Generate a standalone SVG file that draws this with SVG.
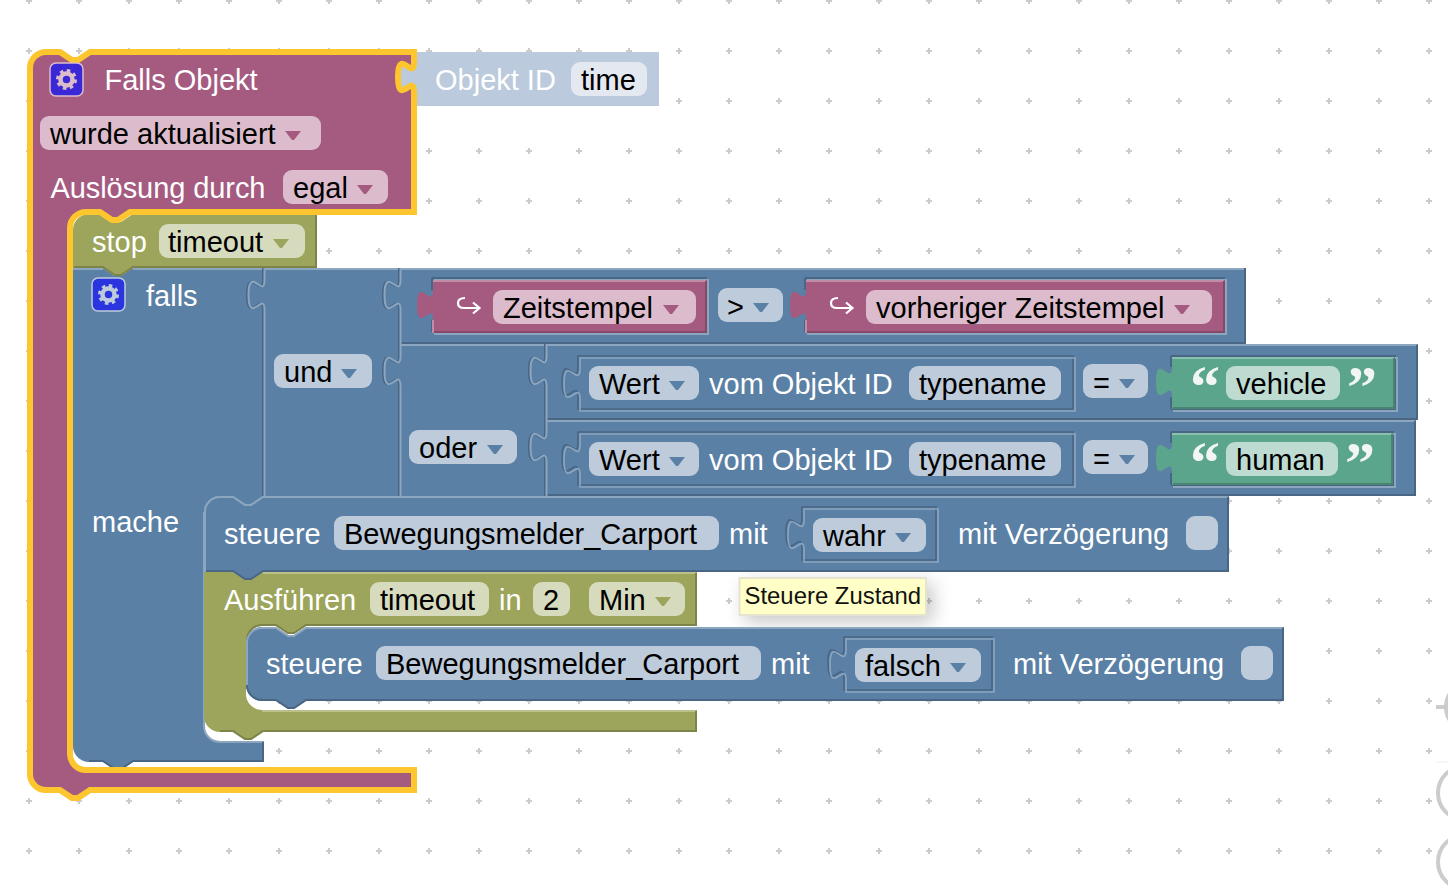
<svg xmlns="http://www.w3.org/2000/svg" xmlns:xlink="http://www.w3.org/1999/xlink" width="1448" height="894" viewBox="0 0 1448 894">
<style>
text{font-family:"Liberation Sans",Arial,sans-serif;font-size:29px}
.w{fill:#fff}.k{fill:#000}
.blue{fill:#5b80a5}.pur{fill:#a55b80}.olv{fill:#9ca55b}.grn{fill:#5ba58c}
.ld{fill:none;stroke:#496684;stroke-width:2}.ll{fill:none;stroke:#8ca6c0;stroke-width:2}
.lds{fill:none;stroke:#496684;stroke-width:1.6}.lls{fill:none;stroke:#8ca6c0;stroke-width:1.6}
.pd{fill:none;stroke:#844966;stroke-width:2}.pl{fill:none;stroke:#c08ca6;stroke-width:2}
.od{fill:none;stroke:#7d844a;stroke-width:2}.ol{fill:none;stroke:#bcc18c;stroke-width:2}
.gd{fill:none;stroke:#498470;stroke-width:2}.gl{fill:none;stroke:#8cc0ae;stroke-width:2}
.fb{fill:#bdcbdb}.fp{fill:#dcbccc}.fo{fill:#d7dbbd}.fg{fill:#bddbd1}
.tb{fill:#5b80a5}.tp{fill:#a55b80}.to{fill:#9ca55b}
.q{font-family:"Liberation Serif",serif;font-weight:bold;font-size:60px;fill:#f1f6f4}
.arr{fill:none;stroke:#fff;stroke-width:2.2;stroke-linejoin:miter}
.ring{fill:none;stroke:#ccc;stroke-width:4}
</style>
<defs>
<pattern id="grid" patternUnits="userSpaceOnUse" x="4" y="-24" width="50" height="50">
<path d="M22,25 H28 M25,22 V28" stroke="#ccc" stroke-width="2" fill="none"/>
</pattern>
<path id="tri" d="M0,0 H16 L9,9 H7 Z"/>
<g id="gear" fill="none">
<circle r="6" stroke-width="4.5"/>
<circle r="8.8" stroke-width="3.4" stroke-dasharray="3.45 3.46"/>
</g>
<filter id="sh" x="-20%" y="-50%" width="150%" height="220%">
<feDropShadow dx="6" dy="6" stdDeviation="9" flood-color="#000" flood-opacity=".22"/>
</filter>
</defs>
<rect width="1448" height="894" fill="#fff"/>
<rect width="1448" height="894" fill="url(#grid)"/>

<g id="workspace-controls">
<path class="ring" d="M1436,707 H1445"/>
<circle class="ring" cx="1471" cy="707" r="25"/>
<path d="M1436,762 H1448" stroke="#eee" stroke-width="1"/>
<circle class="ring" cx="1465" cy="793" r="27"/>
<circle class="ring" cx="1465" cy="862" r="27"/>
</g>

<g id="tooltip">
<rect x="739.500" y="578" width="186.500" height="37" fill="#ffffc7" stroke="#e4e4d0" stroke-width="2" filter="url(#sh)"/>
<text x="744.500" y="604" style="font-size:23.900px" fill="#111">Steuere Zustand</text>
</g>

<g id="objekt-id">
<path d="M414,52 V62 c0,20 -16,-16 -16,15 s16,-5 16,15 V106 H659 V52 Z" fill="#bbcadc"/>
<text class="w" x="435" y="90">Objekt ID</text>
<rect x="571" y="62" width="76" height="34" rx="9" fill="#e4e9f1"/>
<text class="k" x="581" y="90">time</text>
</g>

<g id="falls">
<path class="blue" d="M73,268 H103 l12,8 h6 l12,-8 H264 V496 L263,496 l-12,8 h-6 l-12,-8 H220 a16,16 0 0 0 -16,16 V726 a16,16 0 0 0 16,16 H264 V762 H133 l-12,8 h-6 l-12,-8 H89 a16,16 0 0 1 -16,-16 Z"/>
<path class="ll" d="M204,512 V726 a16,16 0 0 0 16,16 H264"/>
<path class="ld" d="M89,761 H103 l12,8 h6 l12,-8 H263 V742"/>
<path class="ll" d="M73,269 H103 M133,269 H264"/>
<rect x="92" y="278" width="33" height="33" rx="6" fill="#2a35e0" stroke="#bdcbdb" stroke-width="1.5"/>
<use href="#gear" transform="translate(108.500,294.500)" stroke="#bdcbdb"/>
<text class="w" x="146" y="306">falls</text>
<text class="w" x="92" y="532">mache</text>
</g>

<g id="und">
<rect class="blue" x="264" y="268" width="136" height="228"/>
<path class="ll" d="M264,269 H400"/>
<rect class="fb" x="274" y="354" width="98" height="34" rx="9"/>
<text class="k" x="284" y="382">und</text>
<use href="#tri" class="tb" x="341" y="369"/>
</g>

<g id="vergleich-zeitstempel">
<rect class="blue" x="400" y="268" width="846" height="76"/>
<path class="ll" d="M400,269 H1245"/>
<path class="ld" d="M1245,268 V343 H400"/>
<g id="wert-zeitstempel">
<path class="ld" d="M432,278 V290 M432,320 V332 M432,278 H706 V332 H432"/>
<path class="ll" d="M434,280 H708 V334 H434"/>
<path class="pur" d="M433,280 V290 c0,20 -16,-16 -16,15 s16,-5 16,15 V333 H707 V280 Z"/>
<path class="pl" d="M433,281 H706 M433,333 V320"/>
<path class="pd" d="M706,281 V332 H434"/>
<path class="arr" d="M465,298 C460,298 458,300 458,303 C458,306 460,308 464,308 H479 M473,302.500 L479.500,308 L473,313.500"/>
<rect class="fp" x="493" y="290" width="203" height="34" rx="9"/>
<text class="k" x="503" y="318">Zeitstempel</text>
<use href="#tri" class="tp" x="663" y="305"/>
</g>
<rect class="fb" x="718" y="288" width="65" height="34" rx="9"/>
<text class="k" x="727" y="317">&gt;</text>
<use href="#tri" class="tb" x="753" y="303"/>
<g id="wert-vorheriger">
<path class="ld" d="M805,278 V290 M805,320 V332 M805,278 H1224 V332 H805"/>
<path class="ll" d="M807,280 H1226 V334 H807"/>
<path class="pur" d="M806,280 V290 c0,20 -16,-16 -16,15 s16,-5 16,15 V333 H1225 V280 Z"/>
<path class="pl" d="M806,281 H1224 M806,333 V320"/>
<path class="pd" d="M1224,281 V332 H807"/>
<path class="arr" d="M838,298 C833,298 831,300 831,303 C831,306 833,308 837,308 H852 M846,302.500 L852.500,308 L846,313.500"/>
<rect class="fp" x="866" y="290" width="346" height="34" rx="9"/>
<text class="k" x="876" y="318">vorheriger Zeitstempel</text>
<use href="#tri" class="tp" x="1174" y="305"/>
</g>
</g>

<g id="oder">
<rect class="blue" x="400" y="344" width="146" height="152"/>
<path class="ll" d="M400,345 H546"/>
<rect class="fb" x="409" y="430" width="108" height="34" rx="9"/>
<text class="k" x="419" y="458">oder</text>
<use href="#tri" class="tb" x="487" y="445"/>
</g>

<g id="vergleich-vehicle">
<rect class="blue" x="546" y="344" width="872" height="76"/>
<path class="ll" d="M546,345 H1417"/>
<path class="ld" d="M1417,345 V419 H546"/>
<path class="lds" d="M578,356 V367 c0,20 -16,-16 -16,15 s16,-5 16,15 V409 H1073 V356 Z"/>
<path class="lls" transform="translate(2,2)" d="M578,356 V367 c0,20 -16,-16 -16,15 s16,-5 16,15 V409 H1073 V356 Z"/>
<rect class="fb" x="589" y="366" width="110" height="34" rx="9"/>
<text class="k" x="599" y="394">Wert</text>
<use href="#tri" class="tb" x="669" y="381"/>
<text class="w" x="709" y="394">vom Objekt ID</text>
<rect class="fb" x="909" y="366" width="152" height="34" rx="9"/>
<text class="k" x="919" y="394">typename</text>
<rect class="fb" x="1083" y="364" width="65" height="34" rx="9"/>
<text class="k" x="1093" y="393">=</text>
<use href="#tri" class="tb" x="1119" y="379"/>
<g id="text-vehicle">
<path class="ld" d="M1171,356 V367 M1171,397 V409 M1171,356 H1395 V409 H1171"/>
<path class="ll" d="M1173,358 H1397 V411 H1173"/>
<path class="grn" d="M1172,357 V367 c0,20 -16,-16 -16,15 s16,-5 16,15 V409 H1395 V357 Z"/>
<path class="gl" d="M1172,358 H1394"/>
<path class="gd" d="M1394,358 V408 H1173"/>
<text class="q" x="1190" y="407">“</text>
<rect class="fg" x="1226" y="366" width="114" height="34" rx="9"/>
<text class="k" x="1236" y="394">vehicle</text>
<text class="q" x="1347" y="407">”</text>
</g>
</g>

<g id="vergleich-human">
<rect class="blue" x="546" y="420" width="870" height="76"/>
<path class="ll" d="M546,421 H1415"/>
<path class="ld" d="M1415,421 V495 H546"/>
<path class="lds" d="M578,432 V443 c0,20 -16,-16 -16,15 s16,-5 16,15 V485 H1073 V432 Z"/>
<path class="lls" transform="translate(2,2)" d="M578,432 V443 c0,20 -16,-16 -16,15 s16,-5 16,15 V485 H1073 V432 Z"/>
<rect class="fb" x="589" y="442" width="110" height="34" rx="9"/>
<text class="k" x="599" y="470">Wert</text>
<use href="#tri" class="tb" x="669" y="457"/>
<text class="w" x="709" y="470">vom Objekt ID</text>
<rect class="fb" x="909" y="442" width="152" height="34" rx="9"/>
<text class="k" x="919" y="470">typename</text>
<rect class="fb" x="1083" y="440" width="65" height="34" rx="9"/>
<text class="k" x="1093" y="469">=</text>
<use href="#tri" class="tb" x="1119" y="455"/>
<g id="text-human">
<path class="ld" d="M1171,432 V443 M1171,473 V485 M1171,432 H1393 V485 H1171"/>
<path class="ll" d="M1173,434 H1395 V487 H1173"/>
<path class="grn" d="M1172,433 V443 c0,20 -16,-16 -16,15 s16,-5 16,15 V485 H1393 V433 Z"/>
<path class="gl" d="M1172,434 H1392"/>
<path class="gd" d="M1392,434 V484 H1173"/>
<text class="q" x="1190" y="483">“</text>
<rect class="fg" x="1226" y="442" width="112" height="34" rx="9"/>
<text class="k" x="1236" y="470">human</text>
<text class="q" x="1345" y="483">”</text>
</g>
</g>

<g id="connectors">
<path class="ld" d="M263,268 V280 c0,20 -16,-16 -16,15 s16,-5 16,15 V496"/>
<path class="ll" d="M264.500,268 V280 c0,20 -16,-16 -16,15 s16,-5 16,15 V496"/>
<path class="ld" d="M399,268 V280 c0,20 -16,-16 -16,15 s16,-5 16,15 V356 c0,20 -16,-16 -16,15 s16,-5 16,15 V496"/>
<path class="ll" d="M400.500,268 V280 c0,20 -16,-16 -16,15 s16,-5 16,15 V356 c0,20 -16,-16 -16,15 s16,-5 16,15 V496"/>
<path class="ld" d="M545,344 V356 c0,20 -16,-16 -16,15 s16,-5 16,15 V432 c0,20 -16,-16 -16,15 s16,-5 16,15 V496"/>
<path class="ll" d="M546.500,344 V356 c0,20 -16,-16 -16,15 s16,-5 16,15 V432 c0,20 -16,-16 -16,15 s16,-5 16,15 V496"/>
</g>

<g id="ausfuehren">
<path class="olv" d="M204,572 H233 l12,8 h6 l12,-8 H697 V626 H306 l-12,8 h-6 l-12,-8 H262 a16,16 0 0 0 -16,16 V694 a16,16 0 0 0 16,16 H697 V732 H263 l-12,8 h-6 l-12,-8 H220 a16,16 0 0 1 -16,-16 Z"/>
<path class="ol" d="M263,573 H696 M262,711 H696"/>
<path class="od" d="M696,573 V625 H306 l-12,8 h-6 l-12,-8 H262 a15,15 0 0 0 -15,16 M696,711 V731 H263 l-12,8 h-6 l-12,-8 H220"/>
<text class="w" x="224" y="610">Ausführen</text>
<rect class="fo" x="370" y="582" width="119" height="34" rx="9"/>
<text class="k" x="380" y="610">timeout</text>
<text class="w" x="499" y="610">in</text>
<rect class="fo" x="533" y="582" width="37" height="34" rx="9"/>
<text class="k" x="543" y="610">2</text>
<rect class="fo" x="589" y="582" width="96" height="34" rx="9"/>
<text class="k" x="599" y="610">Min</text>
<use href="#tri" class="to" x="655" y="597"/>
</g>

<g id="steuere-wahr">
<path class="blue" d="M204,512 a16,16 0 0 1 16,-16 H233 l12,8 h6 l12,-8 H1229 V572 H263 l-12,8 h-6 l-12,-8 H204 Z"/>
<path class="ll" d="M205,572 V512 a15,15 0 0 1 15,-15 H233 l12,8 h6 l12,-8 H1228"/>
<path class="ld" d="M1228,497 V571 H263 l-12,8 h-6 l-12,-8 H206"/>
<text class="w" x="224" y="544">steuere</text>
<rect class="fb" x="334" y="516" width="385" height="34" rx="9"/>
<text class="k" x="344" y="544">Bewegungsmelder_Carport</text>
<text class="w" x="729" y="544">mit</text>
<path class="lds" d="M802,507 V518 c0,20 -16,-16 -16,15 s16,-5 16,15 V560 H936 V507 Z"/>
<path class="lls" transform="translate(2,2)" d="M802,507 V518 c0,20 -16,-16 -16,15 s16,-5 16,15 V560 H936 V507 Z"/>
<rect class="fb" x="813" y="518" width="113" height="34" rx="9"/>
<text class="k" x="823" y="546">wahr</text>
<use href="#tri" class="tb" x="895" y="533"/>
<text class="w" x="958" y="544">mit Verzögerung</text>
<rect class="fb" x="1186" y="516" width="32" height="34" rx="9"/>
</g>

<g id="steuere-falsch">
<path class="blue" d="M246,643 a16,16 0 0 1 16,-16 H276 l12,8 h6 l12,-8 H1284 V701 H306 l-12,8 h-6 l-12,-8 H262 a16,16 0 0 1 -16,-16 Z"/>
<path class="ll" d="M247,685 V643 a15,15 0 0 1 15,-15 H276 l12,8 h6 l12,-8 H1283"/>
<path class="ld" d="M1283,628 V700 H306 l-12,8 h-6 l-12,-8 H262 a15,15 0 0 1 -15,-15"/>
<text class="w" x="266" y="674">steuere</text>
<rect class="fb" x="376" y="646" width="385" height="34" rx="9"/>
<text class="k" x="386" y="674">Bewegungsmelder_Carport</text>
<text class="w" x="771" y="674">mit</text>
<path class="lds" d="M844,637 V648 c0,20 -16,-16 -16,15 s16,-5 16,15 V690 H992 V637 Z"/>
<path class="lls" transform="translate(2,2)" d="M844,637 V648 c0,20 -16,-16 -16,15 s16,-5 16,15 V690 H992 V637 Z"/>
<rect class="fb" x="855" y="648" width="126" height="34" rx="9"/>
<text class="k" x="865" y="676">falsch</text>
<use href="#tri" class="tb" x="950" y="663"/>
<text class="w" x="1013" y="674">mit Verzögerung</text>
<rect class="fb" x="1241" y="646" width="32" height="34" rx="9"/>
</g>

<g id="stop">
<path class="olv" d="M73,230 a16,16 0 0 1 16,-16 H103 l12,8 h6 l12,-8 H317 V268 H133 l-12,8 h-6 l-12,-8 H73 Z"/>
<path class="od" d="M316,215 V267 H133 l-12,8 h-6 l-12,-8 H74"/>
<text class="w" x="92" y="252">stop</text>
<rect class="fo" x="159" y="224" width="146" height="34" rx="9"/>
<text class="k" x="168" y="252">timeout</text>
<use href="#tri" class="to" x="273" y="239"/>
</g>

<g id="falls-objekt">
<path d="M30,68 a16,16 0 0 1 16,-16 H60 l12,8 h6 l12,-8 H414 V62 c0,20 -16,-16 -16,15 s16,-5 16,15 V212 H130 l-12,8 h-6 l-12,-8 H86 a16,16 0 0 0 -16,16 V754 a16,16 0 0 0 16,16 H414 V790 H90 l-12,8 h-6 l-12,-8 H46 a16,16 0 0 1 -16,-16 Z" fill="#a55b80" stroke="#fdc62e" stroke-width="6" stroke-linejoin="miter" stroke-miterlimit="2"/>
<rect x="50" y="63" width="33" height="33" rx="6" fill="#3a27d6" stroke="#dcbccc" stroke-width="1.5"/>
<use href="#gear" transform="translate(66.500,79.500)" stroke="#dcbccc"/>
<text class="w" x="104.500" y="90">Falls Objekt</text>
<rect class="fp" x="40" y="116" width="281" height="34" rx="9"/>
<text class="k" x="50" y="144">wurde aktualisiert</text>
<use href="#tri" class="tp" x="285" y="131"/>
<text class="w" x="50.500" y="198" textLength="215" lengthAdjust="spacing">Auslösung durch</text>
<rect class="fp" x="283" y="170" width="105" height="34" rx="9"/>
<text class="k" x="293" y="198">egal</text>
<use href="#tri" class="tp" x="357" y="185"/>
</g>
</svg>
